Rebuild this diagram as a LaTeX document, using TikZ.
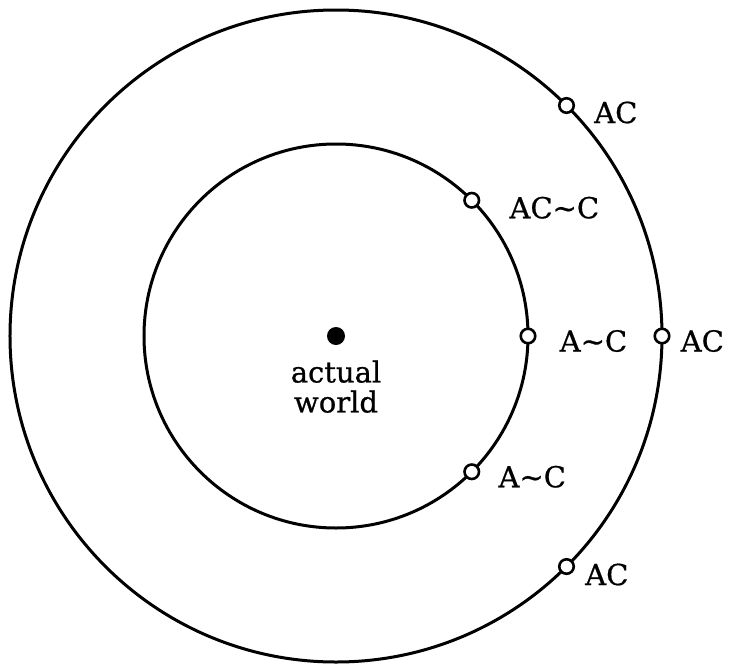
\documentclass[tikz,border=0pt]{standalone}
\usepackage{fontspec}
\setmainfont{DejaVu Serif}
\newfontfamily\heavyserif{DejaVu Serif}[FakeBold=0.7]
\usetikzlibrary{positioning}

\begin{document}
\begin{tikzpicture}[
  x=1pt, y=1pt,
  font=\heavyserif\fontsize{29}{30}\selectfont,
  ring/.style={draw, line width=3pt},
  world/.style={
    circle, draw, fill=white, line width=2.6pt,
    minimum size=14.5pt, inner sep=0pt
  },
  actualdot/.style={circle, fill=black, minimum size=18pt, inner sep=0pt},
  lbl/.style={inner sep=0pt},
]
\useasboundingbox (-336,-329) rectangle (394,336);

\coordinate (c) at (0,0);
\draw[ring] (c) circle[radius=326];
\draw[ring] (c) circle[radius=192];

\node[actualdot] (aw) at (c) {};
\node[lbl, below=15pt of aw, align=center] (awtext) {actual\\world};

% worlds on the inner sphere
\node[world] (i1) at (45:192) {};
\node[world] (i2) at (0:192) {};
\node[world] (i3) at (-45:192) {};

% worlds on the outer sphere
\node[world] (o1) at (45:326) {};
\node[world] (o2) at (0:326) {};
\node[world] (o3) at (-45:326) {};

\node[lbl, right=29pt of i1, yshift=-7.5pt] (li1) {AC\textasciitilde C};
\node[lbl, right=23pt of i2, yshift=-5pt] (li2) {A\textasciitilde C};
\node[lbl, right=18pt of i3, yshift=-5pt] (li3) {A\textasciitilde C};

\node[lbl, right=19pt of o1, yshift=-7pt] (lo1) {AC};
\node[lbl, right=10pt of o2, yshift=-5pt] (lo2) {AC};
\node[lbl, right=10pt of o3, yshift=-8pt] (lo3) {AC};

\end{tikzpicture}
\end{document}
